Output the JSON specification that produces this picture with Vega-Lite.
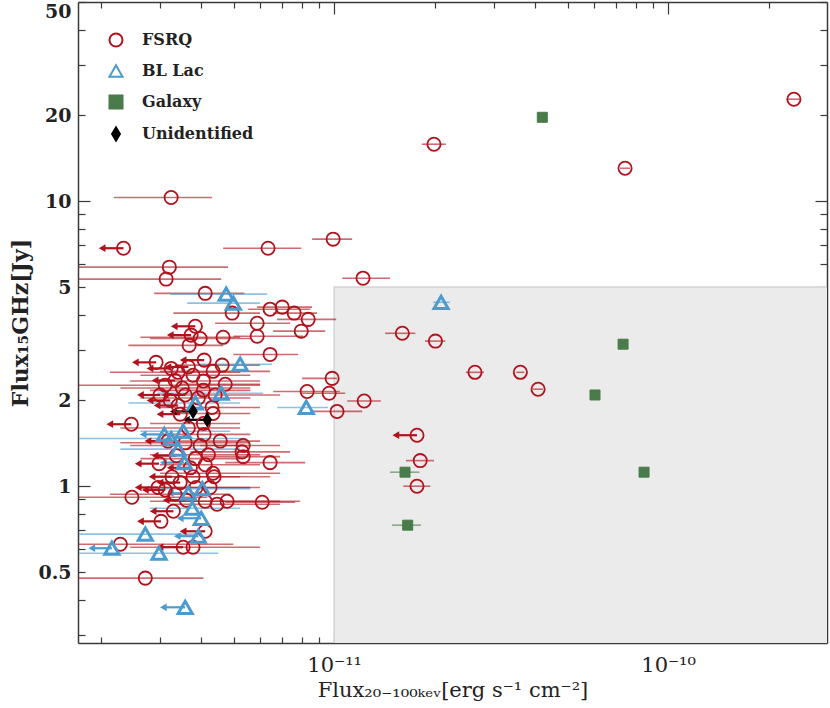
{
  "$schema": "https://vega.github.io/schema/vega-lite/v6.json",
  "width": 749,
  "height": 641,
  "autosize": {"type": "none"},
  "padding": {"left": 78, "top": 2, "right": 3, "bottom": 65},
  "background": "white",
  "datasets": {
    "region": [{"x1": 1e-11, "x2": 5e-10, "y1": 0.2, "y2": 5}],
    "pts": [
      {"type": "FSRQ", "x": 2.38e-10, "xlo": 2.27e-10, "xhi": 2.48e-10, "y": 22.8, "ul": 0},
      {"type": "FSRQ", "x": 1.99e-11, "xlo": 1.83e-11, "xhi": 2.16e-11, "y": 15.85, "ul": 0},
      {"type": "FSRQ", "x": 7.43e-11, "xlo": 7.18e-11, "xhi": 7.69e-11, "y": 13.05, "ul": 0},
      {"type": "FSRQ", "x": 3.25e-12, "xlo": 2.19e-12, "xhi": 4.31e-12, "y": 10.3, "ul": 0},
      {"type": "FSRQ", "x": 2.34e-12, "xlo": 2.02e-12, "xhi": 2.34e-12, "y": 6.84, "ul": 1},
      {"type": "FSRQ", "x": 6.34e-12, "xlo": 4.65e-12, "xhi": 7.97e-12, "y": 6.84, "ul": 0},
      {"type": "FSRQ", "x": 9.93e-12, "xlo": 8.59e-12, "xhi": 1.132e-11, "y": 7.36, "ul": 0},
      {"type": "FSRQ", "x": 3.21e-12, "xlo": 1.72e-12, "xhi": 4.81e-12, "y": 5.87, "ul": 0},
      {"type": "FSRQ", "x": 3.14e-12, "xlo": 1.72e-12, "xhi": 4.59e-12, "y": 5.33, "ul": 0},
      {"type": "FSRQ", "x": 4.11e-12, "xlo": 2.89e-12, "xhi": 5.38e-12, "y": 4.75, "ul": 0},
      {"type": "FSRQ", "x": 1.22e-11, "xlo": 1.057e-11, "xhi": 1.47e-11, "y": 5.37, "ul": 0},
      {"type": "FSRQ", "x": 4.95e-12, "xlo": 3.3e-12, "xhi": 6.0e-12, "y": 4.05, "ul": 0},
      {"type": "FSRQ", "x": 6.43e-12, "xlo": 5.53e-12, "xhi": 8.48e-12, "y": 4.18, "ul": 0},
      {"type": "FSRQ", "x": 6.99e-12, "xlo": 5.88e-12, "xhi": 8.59e-12, "y": 4.25, "ul": 0},
      {"type": "FSRQ", "x": 7.59e-12, "xlo": 6.57e-12, "xhi": 8.89e-12, "y": 4.05, "ul": 0},
      {"type": "FSRQ", "x": 8.36e-12, "xlo": 6.75e-12, "xhi": 1.014e-11, "y": 3.85, "ul": 0},
      {"type": "FSRQ", "x": 7.97e-12, "xlo": 6.57e-12, "xhi": 9.4e-12, "y": 3.5, "ul": 0},
      {"type": "FSRQ", "x": 5.88e-12, "xlo": 4.4e-12, "xhi": 7.38e-12, "y": 3.73, "ul": 0},
      {"type": "FSRQ", "x": 5.88e-12, "xlo": 4.99e-12, "xhi": 8.08e-12, "y": 3.36, "ul": 0},
      {"type": "FSRQ", "x": 4.65e-12, "xlo": 2.63e-12, "xhi": 5.23e-12, "y": 3.33, "ul": 0},
      {"type": "FSRQ", "x": 3.97e-12, "xlo": 2.81e-12, "xhi": 5.61e-12, "y": 3.3, "ul": 0},
      {"type": "FSRQ", "x": 3.73e-12, "xlo": 3.23e-12, "xhi": 3.73e-12, "y": 3.39, "ul": 1},
      {"type": "FSRQ", "x": 3.84e-12, "xlo": 3.32e-12, "xhi": 3.84e-12, "y": 3.64, "ul": 1},
      {"type": "FSRQ", "x": 3.68e-12, "xlo": 2.42e-12, "xhi": 4.65e-12, "y": 3.12, "ul": 0},
      {"type": "FSRQ", "x": 6.43e-12, "xlo": 4.99e-12, "xhi": 7.8e-12, "y": 2.9, "ul": 0},
      {"type": "FSRQ", "x": 2.93e-12, "xlo": 2.54e-12, "xhi": 2.93e-12, "y": 2.72, "ul": 1},
      {"type": "FSRQ", "x": 4.08e-12, "xlo": 3.53e-12, "xhi": 4.08e-12, "y": 2.77, "ul": 1},
      {"type": "FSRQ", "x": 4.62e-12, "xlo": 3.34e-12, "xhi": 6.0e-12, "y": 2.66, "ul": 0},
      {"type": "FSRQ", "x": 4.34e-12, "xlo": 3.01e-12, "xhi": 6.43e-12, "y": 2.53, "ul": 0},
      {"type": "FSRQ", "x": 3.25e-12, "xlo": 2.81e-12, "xhi": 3.25e-12, "y": 2.59, "ul": 1},
      {"type": "FSRQ", "x": 3.41e-12, "xlo": 2.13e-12, "xhi": 5.23e-12, "y": 2.51, "ul": 0},
      {"type": "FSRQ", "x": 3.66e-12, "xlo": 3.18e-12, "xhi": 3.66e-12, "y": 2.62, "ul": 1},
      {"type": "FSRQ", "x": 3.78e-12, "xlo": 2.63e-12, "xhi": 5.61e-12, "y": 2.45, "ul": 0},
      {"type": "FSRQ", "x": 4.06e-12, "xlo": 2.45e-12, "xhi": 6.0e-12, "y": 2.34, "ul": 0},
      {"type": "FSRQ", "x": 3.12e-12, "xlo": 1.72e-12, "xhi": 6.0e-12, "y": 2.26, "ul": 0},
      {"type": "FSRQ", "x": 4.72e-12, "xlo": 3.46e-12, "xhi": 6.0e-12, "y": 2.28, "ul": 0},
      {"type": "FSRQ", "x": 4.06e-12, "xlo": 2.81e-12, "xhi": 5.61e-12, "y": 2.17, "ul": 0},
      {"type": "FSRQ", "x": 9.86e-12, "xlo": 8.02e-12, "xhi": 1.02e-11, "y": 2.39, "ul": 0},
      {"type": "FSRQ", "x": 8.3e-12, "xlo": 6.57e-12, "xhi": 1.04e-11, "y": 2.15, "ul": 0},
      {"type": "FSRQ", "x": 9.66e-12, "xlo": 7.91e-12, "xhi": 1.079e-11, "y": 2.12, "ul": 0},
      {"type": "FSRQ", "x": 1.02e-11, "xlo": 8.48e-12, "xhi": 1.213e-11, "y": 1.83, "ul": 0},
      {"type": "FSRQ", "x": 1.23e-11, "xlo": 1.094e-11, "xhi": 1.38e-11, "y": 1.99, "ul": 0},
      {"type": "FSRQ", "x": 1.6e-11, "xlo": 1.42e-11, "xhi": 1.75e-11, "y": 3.44, "ul": 0},
      {"type": "FSRQ", "x": 2.01e-11, "xlo": 1.87e-11, "xhi": 2.15e-11, "y": 3.23, "ul": 0},
      {"type": "FSRQ", "x": 2.64e-11, "xlo": 2.48e-11, "xhi": 2.81e-11, "y": 2.51, "ul": 0},
      {"type": "FSRQ", "x": 3.61e-11, "xlo": 3.51e-11, "xhi": 3.71e-11, "y": 2.51, "ul": 0},
      {"type": "FSRQ", "x": 4.08e-11, "xlo": 3.94e-11, "xhi": 4.22e-11, "y": 2.19, "ul": 0},
      {"type": "FSRQ", "x": 1.77e-11, "xlo": 1.53e-11, "xhi": 1.77e-11, "y": 1.51, "ul": 1},
      {"type": "FSRQ", "x": 1.81e-11, "xlo": 1.64e-11, "xhi": 1.99e-11, "y": 1.23, "ul": 0},
      {"type": "FSRQ", "x": 1.77e-11, "xlo": 1.61e-11, "xhi": 1.94e-11, "y": 1.0, "ul": 0},
      {"type": "FSRQ", "x": 4.31e-12, "xlo": 3.01e-12, "xhi": 6.0e-12, "y": 1.89, "ul": 0},
      {"type": "FSRQ", "x": 4.34e-12, "xlo": 3.23e-12, "xhi": 5.61e-12, "y": 1.8, "ul": 0},
      {"type": "FSRQ", "x": 4.06e-12, "xlo": 2.81e-12, "xhi": 5.23e-12, "y": 1.66, "ul": 0},
      {"type": "FSRQ", "x": 2.47e-12, "xlo": 2.13e-12, "xhi": 2.47e-12, "y": 1.65, "ul": 1},
      {"type": "FSRQ", "x": 2.99e-12, "xlo": 2.59e-12, "xhi": 2.99e-12, "y": 1.2, "ul": 1},
      {"type": "FSRQ", "x": 4.56e-12, "xlo": 3.01e-12, "xhi": 6.0e-12, "y": 1.44, "ul": 0},
      {"type": "FSRQ", "x": 5.34e-12, "xlo": 3.97e-12, "xhi": 6.89e-12, "y": 1.39, "ul": 0},
      {"type": "FSRQ", "x": 5.3e-12, "xlo": 3.71e-12, "xhi": 7.38e-12, "y": 1.32, "ul": 0},
      {"type": "FSRQ", "x": 5.34e-12, "xlo": 3.97e-12, "xhi": 6.89e-12, "y": 1.27, "ul": 0},
      {"type": "FSRQ", "x": 6.43e-12, "xlo": 4.72e-12, "xhi": 8.19e-12, "y": 1.21, "ul": 0},
      {"type": "FSRQ", "x": 4.08e-12, "xlo": 3.01e-12, "xhi": 5.61e-12, "y": 1.52, "ul": 0},
      {"type": "FSRQ", "x": 4.34e-12, "xlo": 3.01e-12, "xhi": 6.89e-12, "y": 1.11, "ul": 0},
      {"type": "FSRQ", "x": 4.37e-12, "xlo": 3.12e-12, "xhi": 6.43e-12, "y": 1.08, "ul": 0},
      {"type": "FSRQ", "x": 3.78e-12, "xlo": 2.81e-12, "xhi": 5.23e-12, "y": 1.08, "ul": 0},
      {"type": "FSRQ", "x": 2.48e-12, "xlo": 1.72e-12, "xhi": 4.17e-12, "y": 0.915, "ul": 0},
      {"type": "FSRQ", "x": 2.97e-12, "xlo": 2.59e-12, "xhi": 2.97e-12, "y": 0.99, "ul": 1},
      {"type": "FSRQ", "x": 4.11e-12, "xlo": 2.81e-12, "xhi": 6.89e-12, "y": 0.886, "ul": 0},
      {"type": "FSRQ", "x": 4.46e-12, "xlo": 3.23e-12, "xhi": 6.89e-12, "y": 0.865, "ul": 0},
      {"type": "FSRQ", "x": 4.78e-12, "xlo": 3.46e-12, "xhi": 7.91e-12, "y": 0.886, "ul": 0},
      {"type": "FSRQ", "x": 6.09e-12, "xlo": 4.72e-12, "xhi": 7.64e-12, "y": 0.879, "ul": 0},
      {"type": "FSRQ", "x": 3.3e-12, "xlo": 2.87e-12, "xhi": 3.3e-12, "y": 0.817, "ul": 1},
      {"type": "FSRQ", "x": 3.03e-12, "xlo": 2.63e-12, "xhi": 3.03e-12, "y": 0.753, "ul": 1},
      {"type": "FSRQ", "x": 4.11e-12, "xlo": 3.53e-12, "xhi": 4.11e-12, "y": 0.695, "ul": 1},
      {"type": "FSRQ", "x": 2.29e-12, "xlo": 1.72e-12, "xhi": 4.99e-12, "y": 0.626, "ul": 0},
      {"type": "FSRQ", "x": 3.53e-12, "xlo": 3.01e-12, "xhi": 3.53e-12, "y": 0.611, "ul": 1},
      {"type": "FSRQ", "x": 3.78e-12, "xlo": 2.45e-12, "xhi": 6.0e-12, "y": 0.611, "ul": 0},
      {"type": "FSRQ", "x": 2.72e-12, "xlo": 1.72e-12, "xhi": 4.06e-12, "y": 0.476, "ul": 0},
      {"type": "FSRQ", "x": 3.18e-12, "xlo": 2.77e-12, "xhi": 3.18e-12, "y": 1.44, "ul": 1},
      {"type": "FSRQ", "x": 3.37e-12, "xlo": 2.91e-12, "xhi": 3.37e-12, "y": 1.28, "ul": 1},
      {"type": "FSRQ", "x": 3.58e-12, "xlo": 2.29e-12, "xhi": 5.61e-12, "y": 1.42, "ul": 0},
      {"type": "FSRQ", "x": 3.84e-12, "xlo": 2.63e-12, "xhi": 5.23e-12, "y": 1.25, "ul": 0},
      {"type": "FSRQ", "x": 3.71e-12, "xlo": 3.23e-12, "xhi": 3.71e-12, "y": 1.16, "ul": 1},
      {"type": "FSRQ", "x": 3.27e-12, "xlo": 2.85e-12, "xhi": 3.27e-12, "y": 1.08, "ul": 1},
      {"type": "FSRQ", "x": 3.46e-12, "xlo": 3.01e-12, "xhi": 3.46e-12, "y": 1.03, "ul": 1},
      {"type": "FSRQ", "x": 3.12e-12, "xlo": 2.72e-12, "xhi": 3.12e-12, "y": 0.97, "ul": 1},
      {"type": "FSRQ", "x": 3.61e-12, "xlo": 3.14e-12, "xhi": 3.61e-12, "y": 0.893, "ul": 1},
      {"type": "FSRQ", "x": 3.86e-12, "xlo": 2.63e-12, "xhi": 5.61e-12, "y": 0.99, "ul": 0},
      {"type": "FSRQ", "x": 4.25e-12, "xlo": 3.01e-12, "xhi": 6.0e-12, "y": 0.99, "ul": 0},
      {"type": "FSRQ", "x": 3.34e-12, "xlo": 2.13e-12, "xhi": 4.88e-12, "y": 0.937, "ul": 0},
      {"type": "FSRQ", "x": 4.2e-12, "xlo": 2.81e-12, "xhi": 6.0e-12, "y": 1.29, "ul": 0},
      {"type": "FSRQ", "x": 3.97e-12, "xlo": 2.45e-12, "xhi": 5.23e-12, "y": 1.39, "ul": 0},
      {"type": "FSRQ", "x": 3.66e-12, "xlo": 2.29e-12, "xhi": 5.23e-12, "y": 1.6, "ul": 0},
      {"type": "FSRQ", "x": 3.46e-12, "xlo": 3.01e-12, "xhi": 3.46e-12, "y": 1.79, "ul": 1},
      {"type": "FSRQ", "x": 3.23e-12, "xlo": 2.81e-12, "xhi": 3.23e-12, "y": 2.0, "ul": 1},
      {"type": "FSRQ", "x": 3.58e-12, "xlo": 3.12e-12, "xhi": 3.58e-12, "y": 2.09, "ul": 1},
      {"type": "FSRQ", "x": 3.01e-12, "xlo": 2.63e-12, "xhi": 3.01e-12, "y": 2.09, "ul": 1},
      {"type": "FSRQ", "x": 3.92e-12, "xlo": 2.63e-12, "xhi": 5.61e-12, "y": 2.04, "ul": 0},
      {"type": "FSRQ", "x": 3.34e-12, "xlo": 2.91e-12, "xhi": 3.34e-12, "y": 2.35, "ul": 1},
      {"type": "FSRQ", "x": 3.51e-12, "xlo": 2.29e-12, "xhi": 5.61e-12, "y": 2.21, "ul": 0},
      {"type": "FSRQ", "x": 4.4e-12, "xlo": 3.01e-12, "xhi": 6.89e-12, "y": 2.09, "ul": 0},
      {"type": "FSRQ", "x": 4.11e-12, "xlo": 3.01e-12, "xhi": 6.0e-12, "y": 1.19, "ul": 0},
      {"type": "FSRQ", "x": 3.41e-12, "xlo": 2.95e-12, "xhi": 3.41e-12, "y": 1.92, "ul": 1},
      {"type": "BL Lac", "x": 4.75e-12, "xlo": 3.23e-12, "xhi": 6.3e-12, "y": 4.72, "ul": 0},
      {"type": "BL Lac", "x": 4.99e-12, "xlo": 3.63e-12, "xhi": 6.0e-12, "y": 4.39, "ul": 0},
      {"type": "BL Lac", "x": 5.23e-12, "xlo": 3.97e-12, "xhi": 6.52e-12, "y": 2.68, "ul": 0},
      {"type": "BL Lac", "x": 4.59e-12, "xlo": 2.95e-12, "xhi": 6.13e-12, "y": 2.12, "ul": 0},
      {"type": "BL Lac", "x": 8.25e-12, "xlo": 6.75e-12, "xhi": 9.59e-12, "y": 1.89, "ul": 0},
      {"type": "BL Lac", "x": 3.84e-12, "xlo": 2.42e-12, "xhi": 5.23e-12, "y": 1.96, "ul": 0},
      {"type": "BL Lac", "x": 3.1e-12, "xlo": 2.68e-12, "xhi": 3.1e-12, "y": 1.52, "ul": 1},
      {"type": "BL Lac", "x": 3.25e-12, "xlo": 1.72e-12, "xhi": 5.42e-12, "y": 1.47, "ul": 0},
      {"type": "BL Lac", "x": 3.53e-12, "xlo": 2.63e-12, "xhi": 4.88e-12, "y": 1.56, "ul": 0},
      {"type": "BL Lac", "x": 3.41e-12, "xlo": 2.29e-12, "xhi": 5.23e-12, "y": 1.35, "ul": 0},
      {"type": "BL Lac", "x": 3.56e-12, "xlo": 3.08e-12, "xhi": 3.56e-12, "y": 1.21, "ul": 1},
      {"type": "BL Lac", "x": 4.03e-12, "xlo": 3.01e-12, "xhi": 5.61e-12, "y": 0.98, "ul": 0},
      {"type": "BL Lac", "x": 3.66e-12, "xlo": 3.23e-12, "xhi": 3.66e-12, "y": 0.945, "ul": 1},
      {"type": "BL Lac", "x": 3.76e-12, "xlo": 2.81e-12, "xhi": 5.23e-12, "y": 0.837, "ul": 0},
      {"type": "BL Lac", "x": 4.0e-12, "xlo": 3.46e-12, "xhi": 4.0e-12, "y": 0.772, "ul": 1},
      {"type": "BL Lac", "x": 2.72e-12, "xlo": 1.72e-12, "xhi": 3.97e-12, "y": 0.679, "ul": 0},
      {"type": "BL Lac", "x": 3.92e-12, "xlo": 3.39e-12, "xhi": 3.92e-12, "y": 0.668, "ul": 1},
      {"type": "BL Lac", "x": 2.16e-12, "xlo": 1.88e-12, "xhi": 2.16e-12, "y": 0.606, "ul": 1},
      {"type": "BL Lac", "x": 2.99e-12, "xlo": 1.72e-12, "xhi": 4.5e-12, "y": 0.582, "ul": 0},
      {"type": "BL Lac", "x": 3.58e-12, "xlo": 3.08e-12, "xhi": 3.58e-12, "y": 0.376, "ul": 1},
      {"type": "BL Lac", "x": 2.09e-11, "xlo": 1.98e-11, "xhi": 2.22e-11, "y": 4.42, "ul": 0},
      {"type": "Galaxy", "x": 4.2e-11, "xlo": 4.05e-11, "xhi": 4.34e-11, "y": 19.7, "ul": 0},
      {"type": "Galaxy", "x": 7.33e-11, "xlo": 7.2e-11, "xhi": 7.46e-11, "y": 3.15, "ul": 0},
      {"type": "Galaxy", "x": 6.04e-11, "xlo": 5.93e-11, "xhi": 6.15e-11, "y": 2.09, "ul": 0},
      {"type": "Galaxy", "x": 8.47e-11, "xlo": 8.3e-11, "xhi": 8.64e-11, "y": 1.12, "ul": 0},
      {"type": "Galaxy", "x": 1.63e-11, "xlo": 1.47e-11, "xhi": 1.8e-11, "y": 1.12, "ul": 0},
      {"type": "Galaxy", "x": 1.66e-11, "xlo": 1.49e-11, "xhi": 1.82e-11, "y": 0.73, "ul": 0},
      {"type": "Unidentified", "x": 3.78e-12, "xlo": 3.3e-12, "xhi": 3.78e-12, "y": 1.83, "ul": 1},
      {"type": "Unidentified", "x": 4.17e-12, "xlo": 3.61e-12, "xhi": 4.17e-12, "y": 1.71, "ul": 1}
    ]
  },
  "resolve": {"axis": {"x": "independent", "y": "independent"}},
  "layer": [
    {
      "data": {"name": "region"},
      "mark": {"type": "rect", "fill": "#ebebeb", "stroke": "#d4d4d4", "strokeWidth": 1.5, "clip": true},
      "encoding": {
        "x": {"field": "x1", "type": "quantitative", "scale": {"type": "log", "domain": [1.71e-12, 2.99e-10], "nice": false},
          "axis": {"orient": "bottom", "values": [1e-11, 1e-10], "ticks": false, "labelExpr": "datum.value < 3e-11 ? '10⁻¹¹' : '10⁻¹⁰'", "labelFontSize": 21, "labelPadding": 11, "labelFlush": false, "labelOverlap": false, "title": "Flux₂₀₋₁₀₀ₖₑᵥ[erg s⁻¹ cm⁻²]", "titleFontSize": 21, "titleFontWeight": "normal", "titlePadding": 4, "domain": true}},
        "x2": {"field": "x2"},
        "y": {"field": "y1", "type": "quantitative", "scale": {"type": "log", "domain": [0.2818, 50], "nice": false},
          "axis": {"orient": "left", "values": [0.5, 1, 2, 5, 10, 20], "ticks": false, "format": "~g", "labelFontSize": 19, "labelFontWeight": "bold", "labelPadding": 7, "labelOverlap": false, "title": "Flux₁₅GHz[Jy]", "titleFontSize": 22, "titleFontWeight": "bold", "titlePadding": 5, "domain": true}},
        "y2": {"field": "y2"}
      }
    },
    {
      "data": {"name": "pts"},
      "transform": [{"filter": "datum.type == 'FSRQ'"}],
      "mark": {"type": "rule", "color": "#b2121c"},
      "encoding": {
        "x": {"field": "xlo", "type": "quantitative", "scale": {"type": "log", "domain": [1.71e-12, 2.99e-10], "nice": false},
          "axis": {"orient": "bottom", "values": [1e-11, 1e-10], "tickSize": -12, "labels": false, "domain": false, "title": null}},
        "x2": {"field": "xhi"},
        "y": {"field": "y", "type": "quantitative", "scale": {"type": "log", "domain": [0.2818, 50], "nice": false},
          "axis": {"orient": "left", "values": [1, 10], "tickSize": -12, "labels": false, "domain": false, "title": null}},
        "opacity": {"condition": {"test": "datum.ul == 1", "value": 1}, "value": 0.62},
        "strokeWidth": {"condition": {"test": "datum.ul == 1", "value": 2.2}, "value": 1.6}
      }
    },
    {
      "data": {"name": "pts"},
      "transform": [{"filter": "datum.type == 'BL Lac'"}],
      "mark": {"type": "rule", "color": "#4b9bd0"},
      "encoding": {
        "x": {"field": "xlo", "type": "quantitative", "scale": {"type": "log", "domain": [1.71e-12, 2.99e-10], "nice": false},
          "axis": {"orient": "bottom", "values": [2e-12, 3e-12, 4e-12, 5e-12, 6e-12, 7e-12, 8e-12, 9e-12, 2e-11, 3e-11, 4e-11, 5e-11, 6e-11, 7e-11, 8e-11, 9e-11, 2e-10], "tickSize": -6, "labels": false, "domain": false, "title": null}},
        "x2": {"field": "xhi"},
        "y": {"field": "y", "type": "quantitative", "scale": {"type": "log", "domain": [0.2818, 50], "nice": false},
          "axis": {"orient": "left", "values": [0.3, 0.4, 0.5, 0.6, 0.7, 0.8, 0.9, 2, 3, 4, 5, 6, 7, 8, 9, 20, 30, 40, 50], "tickSize": -7, "labels": false, "domain": false, "title": null}},
        "opacity": {"condition": {"test": "datum.ul == 1", "value": 1}, "value": 0.62},
        "strokeWidth": {"condition": {"test": "datum.ul == 1", "value": 2.2}, "value": 1.6}
      }
    },
    {
      "data": {"name": "pts"},
      "transform": [{"filter": "datum.type == 'Galaxy'"}],
      "mark": {"type": "rule", "color": "#4a7b4a"},
      "encoding": {
        "x": {"field": "xlo", "type": "quantitative", "scale": {"type": "log", "domain": [1.71e-12, 2.99e-10], "nice": false},
          "axis": {"orient": "top", "values": [1e-11, 1e-10], "tickSize": -12, "labels": false, "domain": true, "title": null}},
        "x2": {"field": "xhi"},
        "y": {"field": "y", "type": "quantitative", "scale": {"type": "log", "domain": [0.2818, 50], "nice": false},
          "axis": {"orient": "right", "values": [1, 10], "tickSize": -12, "labels": false, "domain": true, "title": null}},
        "opacity": {"value": 0.6},
        "strokeWidth": {"value": 1.6}
      }
    },
    {
      "data": {"name": "pts"},
      "transform": [{"filter": "datum.type == 'Unidentified'"}],
      "mark": {"type": "rule", "color": "#000000"},
      "encoding": {
        "x": {"field": "xlo", "type": "quantitative", "scale": {"type": "log", "domain": [1.71e-12, 2.99e-10], "nice": false},
          "axis": {"orient": "top", "values": [2e-12, 3e-12, 4e-12, 5e-12, 6e-12, 7e-12, 8e-12, 9e-12, 2e-11, 3e-11, 4e-11, 5e-11, 6e-11, 7e-11, 8e-11, 9e-11, 2e-10], "tickSize": -6, "labels": false, "domain": false, "title": null}},
        "x2": {"field": "xhi"},
        "y": {"field": "y", "type": "quantitative", "scale": {"type": "log", "domain": [0.2818, 50], "nice": false},
          "axis": {"orient": "right", "values": [0.3, 0.4, 0.5, 0.6, 0.7, 0.8, 0.9, 2, 3, 4, 5, 6, 7, 8, 9, 20, 30, 40, 50], "tickSize": -7, "labels": false, "domain": false, "title": null}},
        "opacity": {"value": 1},
        "strokeWidth": {"value": 2.2}
      }
    },
    {
      "data": {"name": "pts"},
      "transform": [{"filter": "datum.ul == 1 && datum.type == 'FSRQ'"}],
      "mark": {"type": "point", "shape": "triangle-left", "filled": true, "size": 60, "color": "#b2121c", "opacity": 1},
      "encoding": {
        "x": {"field": "xlo", "type": "quantitative", "scale": {"type": "log", "domain": [1.71e-12, 2.99e-10], "nice": false}, "axis": null},
        "y": {"field": "y", "type": "quantitative", "scale": {"type": "log", "domain": [0.2818, 50], "nice": false},
          "axis": {"orient": "left", "values": [50], "ticks": false, "domain": false, "format": "~g", "labelBaseline": "top", "labelFontSize": 19, "labelFontWeight": "bold", "labelPadding": 7, "title": null}}
      }
    },
    {
      "data": {"name": "pts"},
      "transform": [{"filter": "datum.ul == 1 && datum.type == 'BL Lac'"}],
      "mark": {"type": "point", "shape": "triangle-left", "filled": true, "size": 60, "color": "#4b9bd0", "opacity": 1},
      "encoding": {
        "x": {"field": "xlo", "type": "quantitative", "scale": {"type": "log", "domain": [1.71e-12, 2.99e-10], "nice": false}, "axis": null},
        "y": {"field": "y", "type": "quantitative", "scale": {"type": "log", "domain": [0.2818, 50], "nice": false}, "axis": null}
      }
    },
    {
      "data": {"name": "pts"},
      "transform": [{"filter": "datum.ul == 1 && datum.type == 'Unidentified'"}],
      "mark": {"type": "point", "shape": "triangle-left", "filled": true, "size": 60, "color": "#000000", "opacity": 1},
      "encoding": {
        "x": {"field": "xlo", "type": "quantitative", "scale": {"type": "log", "domain": [1.71e-12, 2.99e-10], "nice": false}, "axis": null},
        "y": {"field": "y", "type": "quantitative", "scale": {"type": "log", "domain": [0.2818, 50], "nice": false}, "axis": null}
      }
    },
    {
      "data": {"name": "pts"},
      "transform": [{"filter": "datum.type == 'FSRQ'"}],
      "mark": {"type": "point", "size": 175, "strokeWidth": 1.8, "opacity": 1},
      "encoding": {
        "x": {"field": "x", "type": "quantitative", "scale": {"type": "log", "domain": [1.71e-12, 2.99e-10], "nice": false}, "axis": null},
        "y": {"field": "y", "type": "quantitative", "scale": {"type": "log", "domain": [0.2818, 50], "nice": false}, "axis": null},
        "color": {"field": "type", "type": "nominal", "scale": {"domain": ["FSRQ", "BL Lac", "Galaxy", "Unidentified"], "range": ["#b2121c", "#4b9bd0", "#4a7b4a", "#000000"]}, "legend": {"title": null, "orient": "none", "legendX": 30, "legendY": 30}},
        "fill": {"field": "type", "type": "nominal", "scale": {"domain": ["FSRQ", "BL Lac", "Galaxy", "Unidentified"], "range": ["transparent", "transparent", "#4a7b4a", "#000000"]}, "legend": {"title": null, "orient": "none", "legendX": 30, "legendY": 30}},
        "shape": {"field": "type", "type": "nominal", "scale": {"domain": ["FSRQ", "BL Lac", "Galaxy", "Unidentified"], "range": ["circle", "triangle-up", "square", "M0,-1L0.6,0L0,1L-0.6,0Z"]}, "legend": {"title": null, "orient": "none", "legendX": 30, "legendY": 30}}
      }
    },
    {
      "data": {"name": "pts"},
      "transform": [{"filter": "datum.type == 'BL Lac'"}],
      "mark": {"type": "point", "size": 200, "strokeWidth": 3, "opacity": 1},
      "encoding": {
        "x": {"field": "x", "type": "quantitative", "scale": {"type": "log", "domain": [1.71e-12, 2.99e-10], "nice": false}, "axis": null},
        "y": {"field": "y", "type": "quantitative", "scale": {"type": "log", "domain": [0.2818, 50], "nice": false}, "axis": null},
        "color": {"field": "type", "type": "nominal", "scale": {"domain": ["FSRQ", "BL Lac", "Galaxy", "Unidentified"], "range": ["#b2121c", "#4b9bd0", "#4a7b4a", "#000000"]}, "legend": {"title": null, "orient": "none", "legendX": 30, "legendY": 30}},
        "fill": {"field": "type", "type": "nominal", "scale": {"domain": ["FSRQ", "BL Lac", "Galaxy", "Unidentified"], "range": ["transparent", "transparent", "#4a7b4a", "#000000"]}, "legend": {"title": null, "orient": "none", "legendX": 30, "legendY": 30}},
        "shape": {"field": "type", "type": "nominal", "scale": {"domain": ["FSRQ", "BL Lac", "Galaxy", "Unidentified"], "range": ["circle", "triangle-up", "square", "M0,-1L0.6,0L0,1L-0.6,0Z"]}, "legend": {"title": null, "orient": "none", "legendX": 30, "legendY": 30}}
      }
    },
    {
      "data": {"name": "pts"},
      "transform": [{"filter": "datum.type == 'Galaxy'"}],
      "mark": {"type": "point", "size": 100, "strokeWidth": 1, "opacity": 1},
      "encoding": {
        "x": {"field": "x", "type": "quantitative", "scale": {"type": "log", "domain": [1.71e-12, 2.99e-10], "nice": false}, "axis": null},
        "y": {"field": "y", "type": "quantitative", "scale": {"type": "log", "domain": [0.2818, 50], "nice": false}, "axis": null},
        "color": {"field": "type", "type": "nominal", "scale": {"domain": ["FSRQ", "BL Lac", "Galaxy", "Unidentified"], "range": ["#b2121c", "#4b9bd0", "#4a7b4a", "#000000"]}, "legend": {"title": null, "orient": "none", "legendX": 30, "legendY": 30}},
        "fill": {"field": "type", "type": "nominal", "scale": {"domain": ["FSRQ", "BL Lac", "Galaxy", "Unidentified"], "range": ["transparent", "transparent", "#4a7b4a", "#000000"]}, "legend": {"title": null, "orient": "none", "legendX": 30, "legendY": 30}},
        "shape": {"field": "type", "type": "nominal", "scale": {"domain": ["FSRQ", "BL Lac", "Galaxy", "Unidentified"], "range": ["circle", "triangle-up", "square", "M0,-1L0.6,0L0,1L-0.6,0Z"]}, "legend": {"title": null, "orient": "none", "legendX": 30, "legendY": 30}}
      }
    },
    {
      "data": {"name": "pts"},
      "transform": [{"filter": "datum.type == 'Unidentified'"}],
      "mark": {"type": "point", "size": 200, "strokeWidth": 1, "opacity": 1},
      "encoding": {
        "x": {"field": "x", "type": "quantitative", "scale": {"type": "log", "domain": [1.71e-12, 2.99e-10], "nice": false}, "axis": null},
        "y": {"field": "y", "type": "quantitative", "scale": {"type": "log", "domain": [0.2818, 50], "nice": false}, "axis": null},
        "color": {"field": "type", "type": "nominal", "scale": {"domain": ["FSRQ", "BL Lac", "Galaxy", "Unidentified"], "range": ["#b2121c", "#4b9bd0", "#4a7b4a", "#000000"]}, "legend": {"title": null, "orient": "none", "legendX": 30, "legendY": 30}},
        "fill": {"field": "type", "type": "nominal", "scale": {"domain": ["FSRQ", "BL Lac", "Galaxy", "Unidentified"], "range": ["transparent", "transparent", "#4a7b4a", "#000000"]}, "legend": {"title": null, "orient": "none", "legendX": 30, "legendY": 30}},
        "shape": {"field": "type", "type": "nominal", "scale": {"domain": ["FSRQ", "BL Lac", "Galaxy", "Unidentified"], "range": ["circle", "triangle-up", "square", "M0,-1L0.6,0L0,1L-0.6,0Z"]}, "legend": {"title": null, "orient": "none", "legendX": 30, "legendY": 30}}
      }
    }
  ],
  "config": {
    "view": {"stroke": null},
    "axis": {"grid": false, "domainColor": "#3a3a3a", "domainWidth": 1.5, "tickColor": "#3a3a3a", "tickWidth": 1.2, "labelFont": "DejaVu Serif", "titleFont": "DejaVu Serif", "labelColor": "#222222", "titleColor": "#222222"},
    "legend": {"labelFont": "DejaVu Serif", "labelFontSize": 16, "labelFontWeight": "bold", "labelColor": "#222222", "symbolSize": 170, "symbolStrokeWidth": 2, "rowPadding": 10, "labelOffset": 18, "padding": 0}
  }
}
